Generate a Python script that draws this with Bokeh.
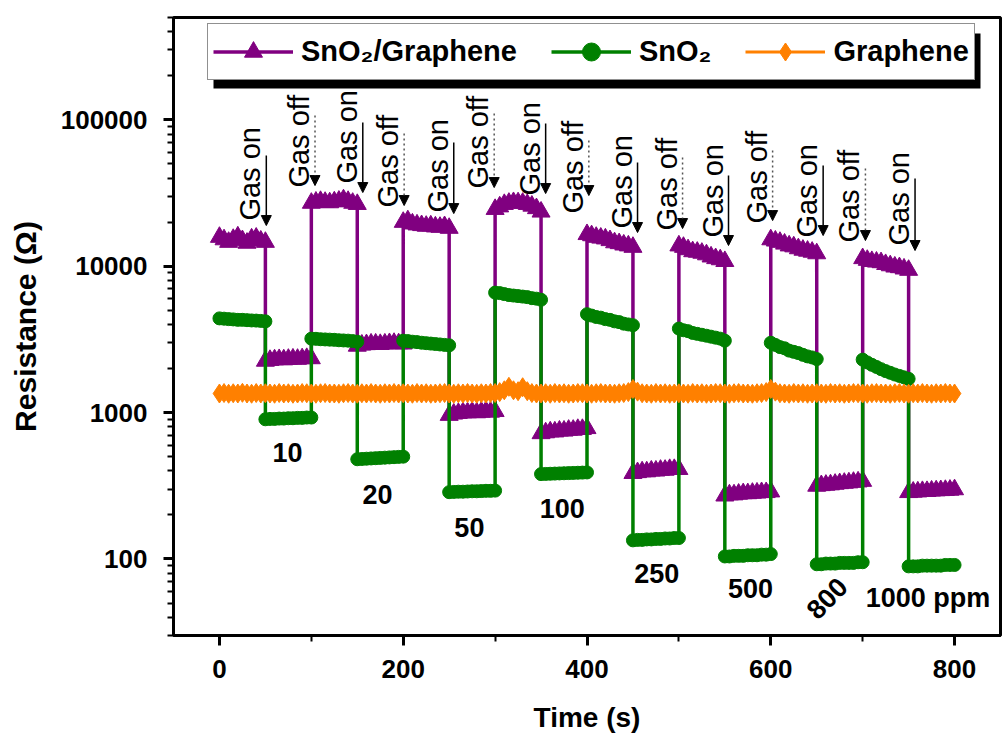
import math
from bokeh.plotting import figure
from bokeh.models import (ColumnDataSource, Range1d, FixedTicker, PrintfTickFormatter,
                          Legend, LegendItem, Arrow, NormalHead, BoxAnnotation)
from bokeh.core.properties import value
from bokeh.embed import file_html
from bokeh.resources import INLINE

# ---------------- data ----------------
# start times (s) of the 50-s gas-off / gas-on segments
switch_times = [0, 50, 100, 150, 200, 250, 300, 350, 400, 450, 500, 550, 600, 650, 700, 750]
seg_offsets = [0, 5, 10, 15, 20, 25, 30, 35, 40, 45, 50]

# SnO2/Graphene resistance (ohm), one row per segment
sno2_graphene = [
    [15800, 15200, 14600, 15300, 15900, 15000, 14400, 15400, 15600, 14900, 14600],
    [2250, 2280, 2300, 2310, 2300, 2320, 2330, 2320, 2340, 2350, 2340],
    [27000, 27500, 27800, 27400, 27200, 27600, 27900, 28500, 27800, 27000, 26500],
    [2850, 2900, 2920, 2950, 2950, 2930, 2950, 2970, 2980, 2960, 2950],
    [20000, 20500, 19500, 19200, 19000, 18800, 18900, 18600, 18500, 18700, 18200],
    [960, 980, 990, 1000, 1000, 1010, 1000, 1010, 1020, 1010, 1020],
    [24500, 25500, 26500, 27000, 27300, 27200, 27000, 26500, 25800, 24800, 23500],
    [720, 730, 740, 740, 750, 750, 760, 760, 770, 770, 780],
    [16500, 16200, 15800, 15600, 15400, 15000, 14500, 14300, 14000, 13800, 13500],
    [385, 390, 395, 395, 400, 400, 405, 405, 410, 410, 410],
    [13800, 13500, 13000, 12600, 12500, 12300, 12000, 11600, 11300, 11100, 10800],
    [270, 275, 275, 278, 280, 280, 282, 283, 285, 285, 288],
    [15200, 14900, 14600, 14200, 13800, 13600, 13200, 12900, 12700, 12500, 12200],
    [315, 318, 320, 322, 325, 328, 330, 332, 335, 337, 340],
    [11300, 11000, 10800, 10700, 10600, 10300, 10100, 9900, 9800, 9600, 9400],
    [285, 287, 288, 290, 290, 292, 293, 294, 295, 296, 298],
]

# SnO2 resistance (ohm), one row per segment
sno2 = [
    [4400, 4380, 4350, 4330, 4300, 4300, 4280, 4260, 4250, 4230, 4200],
    [900, 905, 905, 910, 910, 915, 915, 920, 920, 925, 925],
    [3200, 3190, 3170, 3160, 3150, 3140, 3120, 3110, 3100, 3080, 3050],
    [480, 482, 484, 486, 488, 490, 492, 494, 496, 498, 500],
    [3100, 3080, 3050, 3030, 3000, 2980, 2960, 2940, 2920, 2900, 2880],
    [286, 287, 288, 288, 289, 290, 290, 291, 292, 292, 293],
    [6600, 6550, 6450, 6350, 6300, 6250, 6200, 6150, 6050, 6000, 5900],
    [380, 381, 382, 383, 384, 385, 386, 387, 388, 389, 390],
    [4700, 4600, 4500, 4450, 4350, 4300, 4200, 4150, 4050, 4000, 3950],
    [134, 135, 135, 136, 136, 137, 137, 138, 138, 139, 139],
    [3750, 3650, 3600, 3500, 3450, 3400, 3350, 3300, 3250, 3200, 3100],
    [104, 104, 105, 105, 105, 106, 106, 106, 107, 107, 108],
    [3000, 2900, 2800, 2750, 2650, 2600, 2550, 2480, 2420, 2380, 2320],
    [92, 92, 93, 93, 93, 94, 94, 94, 94, 95, 95],
    [2300, 2200, 2120, 2050, 1980, 1920, 1870, 1820, 1780, 1740, 1700],
    [89, 89, 89, 90, 90, 90, 90, 90, 91, 91, 91],
]

# Graphene resistance (ohm), every 5 s from 0 to 800 s
graphene_time = list(range(0, 801, 5))
graphene = [
    1350, 1360, 1345, 1355, 1350, 1365, 1350, 1345, 1360, 1350,
    1355, 1350, 1345, 1360, 1350, 1355, 1345, 1350, 1360, 1355,
    1350, 1345, 1355, 1360, 1350, 1350, 1345, 1355, 1360, 1350,
    1345, 1355, 1350, 1360, 1350, 1345, 1355, 1350, 1360, 1350,
    1355, 1350, 1345, 1360, 1350, 1355, 1345, 1350, 1355, 1360,
    1350, 1345, 1355, 1350, 1360, 1350, 1345, 1355, 1350, 1360,
    1360, 1380, 1420, 1500, 1420, 1400, 1490, 1400, 1360, 1350,
    1350, 1355, 1345, 1360, 1350, 1355, 1345, 1350, 1360, 1355,
    1350, 1345, 1355, 1360, 1350, 1350, 1345, 1355, 1360, 1380,
    1450, 1390, 1355, 1350, 1345, 1360, 1350, 1355, 1345, 1350,
    1355, 1350, 1345, 1360, 1350, 1355, 1345, 1350, 1360, 1355,
    1350, 1345, 1355, 1360, 1350, 1350, 1345, 1355, 1360, 1380,
    1450, 1390, 1355, 1350, 1345, 1360, 1350, 1355, 1345, 1350,
    1355, 1350, 1345, 1360, 1350, 1355, 1345, 1350, 1360, 1355,
    1350, 1345, 1355, 1360, 1350, 1350, 1345, 1355, 1360, 1350,
    1345, 1355, 1350, 1360, 1350, 1345, 1355, 1350, 1360, 1350,
    1350,
]

series_names = ["SnO\u2082/Graphene", "SnO\u2082", "Graphene"]

# gas on / gas off annotations (time, arrow tail, arrow tip, text start)
gas_on_t = [51, 156, 255, 355, 455, 554, 657, 757]
gas_on_tail = [57000, 95800, 69930, 94280, 51050, 41620, 48690, 39690]
gas_on_tip = [18950, 31850, 22880, 31350, 16980, 13840, 16190, 12790]
gas_on_text_y = [20500, 36680, 23250, 30380, 18080, 15690, 15690, 13840]

gas_off_t = [104, 201, 299, 402, 504, 602, 703]
gas_off_tail = [106900, 80560, 110300, 72150, 55230, 61640, 46450]
gas_off_tip = [35550, 25960, 34450, 30380, 18080, 20500, 14970]
gas_off_text_y = [34450, 25160, 33920, 22880, 17520, 19560, 14500]

# concentration labels
conc_labels = ["10", "20", "50", "100", "250", "500", "800", "1000 ppm"]
conc_t = [74, 172, 272, 373, 476, 578, 661, 771]
conc_y = [533, 276, 164, 221, 80, 63, 54, 54.5]
conc_angle = [0, 0, 0, 0, 0, 0, 0.8, 0]

x_ticks = [0, 200, 400, 600, 800]
x_minor = [100, 300, 500, 700]
y_ticks = [100, 1000, 10000, 100000]
y_minor = [m * 10 ** e for e in range(1, 6) for m in range(2, 10) if 30 <= m * 10 ** e <= 500000]

x_title = "Time (s)"
y_title = "Resistance (\u03a9)"

# ---------------- styling ----------------
FONT = "Liberation Sans"
PURPLE = "#800080"
GREEN = "#008000"
ORANGE = "#FF8000"

seg_time = [s + o for s in switch_times for o in seg_offsets]
sg_vals = [v for row in sno2_graphene for v in row]
s_vals = [v for row in sno2 for v in row]

p = figure(width=1002, height=740, x_range=Range1d(-50, 850), y_range=Range1d(30, 500000),
           y_axis_type="log", output_backend="svg", toolbar_location=None,
           min_border_left=173, min_border_right=2, min_border_top=17, min_border_bottom=105)
p.grid.visible = False
p.background_fill_color = "white"
p.border_fill_color = "white"
p.outline_line_color = "black"
p.outline_line_width = 3
p.outline_line_alpha = 1

for ax in (p.xaxis[0], p.yaxis[0]):
    ax.axis_line_width = 3
    ax.major_tick_line_width = 3
    ax.minor_tick_line_width = 2
    ax.major_tick_in = 0
    ax.major_tick_out = 10
    ax.minor_tick_in = 0
    ax.minor_tick_out = 6
    ax.major_label_text_font = FONT
    ax.major_label_text_font_style = "bold"
    ax.major_label_text_font_size = "26px"
    ax.major_label_text_color = "black"
    ax.axis_label_text_font = FONT
    ax.axis_label_text_font_style = "bold"
    ax.axis_label_text_color = "black"

xa = p.xaxis[0]
xa.ticker = FixedTicker(ticks=x_ticks, minor_ticks=x_minor)
xa.axis_label = x_title
xa.axis_label_text_font_size = "28px"
xa.major_label_standoff = 14
xa.axis_label_standoff = 21

ya = p.yaxis[0]
ya.ticker = FixedTicker(ticks=y_ticks, minor_ticks=y_minor)
ya.formatter = PrintfTickFormatter(format="%d")
ya.axis_label = y_title
ya.axis_label_text_font_size = "30px"
ya.major_label_standoff = 16
ya.axis_label_standoff = 16

# series
r_sg_line = p.line(seg_time, sg_vals, line_color=PURPLE, line_width=3.5)
r_sg_mark = p.scatter(seg_time, sg_vals, marker="triangle", size=18,
                      fill_color=PURPLE, line_color=PURPLE)
r_s_line = p.line(seg_time, s_vals, line_color=GREEN, line_width=3.5)
r_s_mark = p.scatter(seg_time, s_vals, marker="circle", size=13,
                     fill_color=GREEN, line_color=GREEN)
r_g_line = p.line(graphene_time, graphene, line_color=ORANGE, line_width=3)
r_g_mark = p.scatter(graphene_time, graphene, marker="diamond", size=19,
                     fill_color=ORANGE, line_color=ORANGE)

# arrows
on_src = ColumnDataSource(dict(x=gas_on_t, y0=gas_on_tail, y1=gas_on_tip))
off_src = ColumnDataSource(dict(x=gas_off_t, y0=gas_off_tail, y1=gas_off_tip))
p.add_layout(Arrow(end=NormalHead(size=10, fill_color="black", line_color="black", line_width=1),
                   x_start="x", y_start="y0", x_end="x", y_end="y1", source=on_src,
                   line_color="black", line_width=1.5))
p.add_layout(Arrow(end=NormalHead(size=10, fill_color="black", line_color="black", line_width=1),
                   x_start="x", y_start="y0", x_end="x", y_end="y1", source=off_src,
                   line_color="#555555", line_width=1.5, line_dash="2 3"))

on_txt = ColumnDataSource(dict(x=gas_on_t, y=gas_on_text_y, t=["Gas on"] * len(gas_on_t)))
off_txt = ColumnDataSource(dict(x=gas_off_t, y=gas_off_text_y, t=["Gas off"] * len(gas_off_t)))
for src in (on_txt, off_txt):
    p.text(x="x", y="y", text="t", source=src, angle=math.pi / 2, x_offset=-16,
           text_font=value(FONT), text_font_size="29px", text_align="left",
           text_baseline="middle", text_color="black")

conc_src = ColumnDataSource(dict(x=conc_t, y=conc_y, t=conc_labels, a=conc_angle))
p.text(x="x", y="y", text="t", angle="a", source=conc_src, text_font=value(FONT),
       text_font_style="bold", text_font_size="27px", text_align="center",
       text_baseline="middle", text_color="black")

# legend with drop shadow
shadow = BoxAnnotation(left=40, right=807, bottom=547, top=602,
                       left_units="screen", right_units="screen",
                       bottom_units="screen", top_units="screen",
                       fill_color="black", fill_alpha=1, line_color=None)
p.add_layout(shadow)

legend = Legend(items=[LegendItem(label=series_names[0], renderers=[r_sg_line, r_sg_mark]),
                       LegendItem(label=series_names[1], renderers=[r_s_line, r_s_mark]),
                       LegendItem(label=series_names[2], renderers=[r_g_line, r_g_mark])],
                location=(34, 555), orientation="horizontal",
                label_text_font=FONT, label_text_font_style="bold", label_text_font_size="29px",
                label_text_color="black",
                glyph_width=80, glyph_height=45, label_standoff=8, spacing=34,
                padding=5, margin=0, border_line_color="#222222", border_line_width=1.5,
                background_fill_color="white", background_fill_alpha=1)
p.add_layout(legend)

open("out.html", "w").write(file_html(p, INLINE))
